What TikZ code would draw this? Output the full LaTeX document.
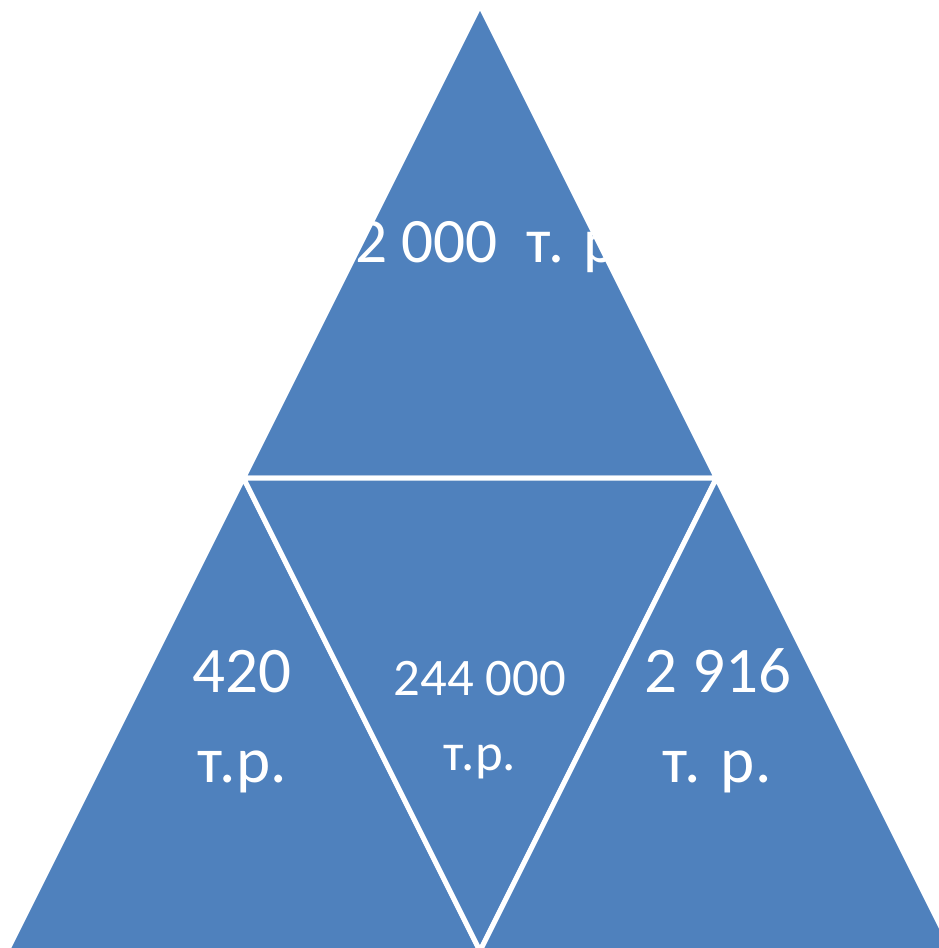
\documentclass[tikz,border=0pt]{standalone}
\usepackage{fontspec}
\setmainfont{Carlito}
\definecolor{piece}{HTML}{4F81BD}

\begin{document}
\begin{tikzpicture}[x=0.01cm,y=-0.01cm]
\useasboundingbox (0,0) rectangle (939,948);
\begin{scope}
\clip (0,0) rectangle (939,948);
% corners of the pyramid
\coordinate (T) at (480,5);
\coordinate (ML) at (243.5,478);
\coordinate (MR) at (716.5,478);
\coordinate (BL) at (7,951);
\coordinate (BM) at (480,951);
\coordinate (BR) at (953,951);

\begin{scope}[every path/.style={fill=piece,draw=white,line width=0.05cm,line join=round}]
    \path (T) -- (ML) -- (MR) -- cycle;
    \path (ML) -- (BL) -- (BM) -- cycle;
    \path (ML) -- (MR) -- (BM) -- cycle;
    \path (MR) -- (BM) -- (BR) -- cycle;
\end{scope}

\begin{scope}[every node/.style={text=white,anchor=base,inner sep=0pt}]
    \node[font=\fontsize{18}{22}\selectfont] (top) at (478,262) {12 000\ \ т. р.};

    \node[font=\fontsize{18.5}{22}\selectfont] (left) at (242,692) {420};
    \node[font=\fontsize{18.5}{22}\selectfont] (leftb) at (242,782) {т.р.};

    \node[font=\fontsize{15}{18}\selectfont] (mid) at (480,695) {244 000};
    \node[font=\fontsize{15}{18}\selectfont] (midb) at (480,770) {т.р.};

    \node[font=\fontsize{18.5}{22}\selectfont] (right) at (718,692) {2 916};
    \node[font=\fontsize{18.5}{22}\selectfont] (rightb) at (717,782) {т. р.};
\end{scope}
\end{scope}
\end{tikzpicture}
\end{document}
